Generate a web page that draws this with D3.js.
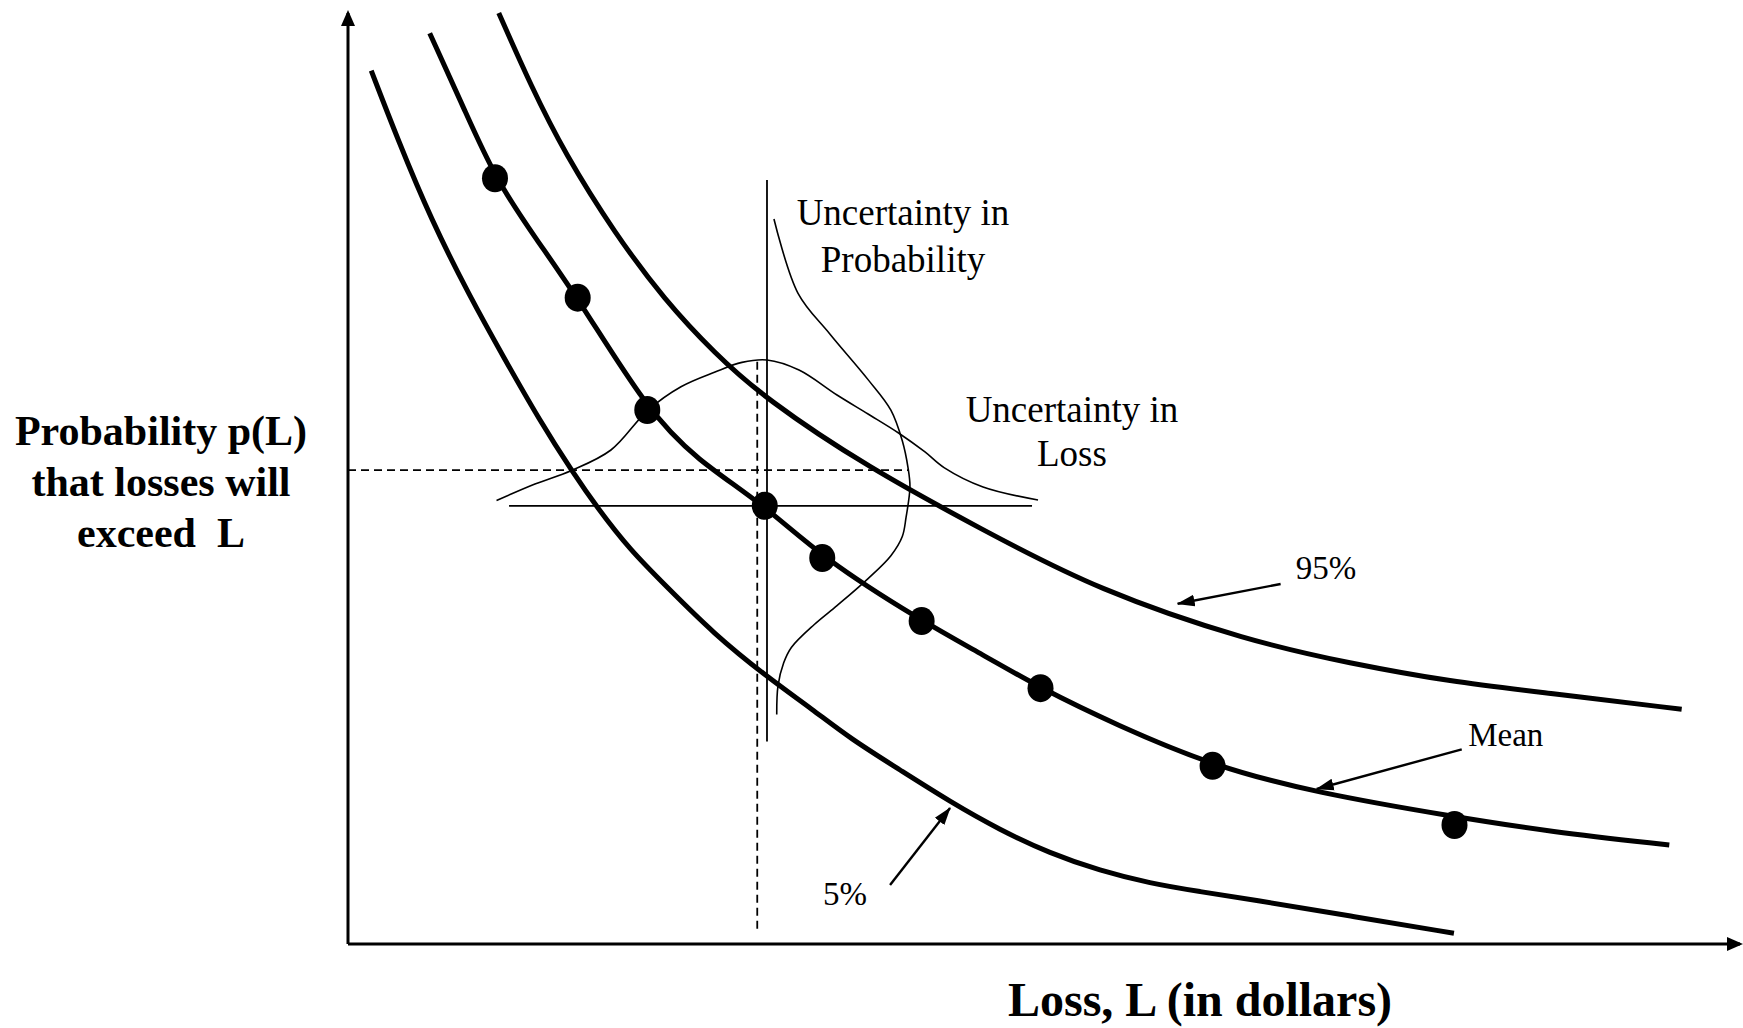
<!DOCTYPE html>
<html>
<head>
<meta charset="utf-8">
<script src="https://cdn.jsdelivr.net/npm/d3@7"></script>
<style>
  html, body { margin: 0; padding: 0; background: #fff; }
  svg { display: block; font-family: "Liberation Serif", "Times New Roman", serif; }
</style>
</head>
<body>
<div id="chart"></div>
<script>
// loss L on x, exceedance probability p(L) on y, both on a 0-100 scale
const meanCurve = [
  [5.87, 97.82], [8.38, 89.58], [10.56, 82.25], [13.56, 75.62], [16.5, 69.42],
  [21.5, 57.36], [25.05, 51.99], [29.83, 47.26], [34.07, 41.46], [41.21, 34.69],
  [45.64, 31.04], [49.75, 27.48], [55.22, 23.52], [62.11, 19.14], [69.59, 16.22],
  [79.45, 13.67], [86.35, 12.06], [94.92, 10.63]
];

const meanPoints = [
  [10.56, 82.25], [16.5, 69.42], [21.5, 57.36], [29.94, 47.07], [34.07, 41.46],
  [41.21, 34.69], [49.75, 27.48], [62.11, 19.14], [79.49, 12.78]
];

const upperCurve = [
  [10.83, 100], [13.17, 92.08], [15.57, 84.93], [19.16, 76.34], [22.75, 69.17],
  [26.34, 63.45], [29.94, 58.61], [37.36, 51.17], [45.62, 44.47], [53.84, 38.02],
  [64.8, 32.49], [71.98, 30.15], [79.17, 28.17], [86.35, 26.93], [95.81, 25.21]
];

const lowerCurve = [
  [1.67, 93.8], [3.59, 86.36], [5.98, 77.77], [8.76, 69.53], [11.16, 63.08],
  [13.79, 56.18], [16.19, 50.56], [17.87, 46.94], [20.26, 42.32], [22.89, 38.38],
  [26.24, 33.37], [30.08, 28.71], [33.43, 25.13], [36.06, 22.09], [39.66, 18.69],
  [43.25, 15.28], [46.84, 12.24], [50.43, 9.74], [54.02, 7.87], [57.61, 6.52],
  [61.21, 5.62], [64.8, 4.8], [71.98, 3.01], [79.45, 1.15]
];

// spread of the loss around the central point (bell lying on its base)
const lossSpread = [
  [10.67, 47.64], [13.43, 49.41], [16.02, 50.84], [18.89, 53.06], [21.52, 57.3],
  [23.92, 59.86], [26.37, 61.44], [28.3, 62.47], [30.1, 62.73], [32.4, 61.65],
  [35.13, 58.97], [37.36, 56.93], [39.55, 54.89], [41.45, 52.85], [42.82, 51.17],
  [45.62, 49.09], [49.57, 47.69]
];

// spread of the probability (bell standing on its side)
const probSpread = [
  [30.6, 77.87], [32.33, 69.89], [34.6, 65.55], [37.36, 60.62], [39.0, 57.34],
  [39.82, 54.05], [40.23, 51.17], [40.37, 49.11], [40.09, 45.82], [39.82, 43.77],
  [39.0, 41.71], [37.36, 39.25], [35.15, 36.37], [33.5, 34.32], [31.85, 31.85],
  [31.3, 30.2], [30.89, 27.73], [30.8, 24.65]
];

// [x1, y1, x2, y2, dashed]
const guideLines = [
  [30.1, 82.06, 30.1, 21.75, false],
  [11.57, 47.05, 49.14, 47.05, false],
  [0, 50.91, 40.23, 50.91, true],
  [29.4, 62.55, 29.4, 1.5, true]
];

// [x1, y1, x2, y2] tail -> tip
const pointers = [
  [67.0, 38.67, 59.6, 36.55],
  [80.01, 20.91, 69.59, 16.65],
  [38.94, 6.34, 43.25, 14.61]
];

const noteLines = [
  ["Uncertainty in", 39.87, 77.18],
  ["Probability", 39.87, 72.21],
  ["Uncertainty in", 52.01, 56.1],
  ["Loss", 52.01, 51.38]
];

const curveNames = [
  ["95%", 70.26, 39.21],
  ["Mean", 83.17, 21.27],
  ["5%", 35.7, 4.19]
];

const yTitle = ["Probability p(L)", "that losses will", "exceed  L"];
const xTitle = "Loss, L (in dollars)";

const width = 1743;
const height = 1028;

const svg = d3.select("#chart")
  .append("svg")
  .attr("width", width)
  .attr("height", height)
  .attr("viewBox", [0, 0, width, height]);

const x = d3.scaleLinear().domain([0, 100]).range([348, 1740]);
const y = d3.scaleLinear().domain([0, 100]).range([944, 13]);

const defs = svg.append("defs");

defs.append("marker")
  .attr("id", "axis-head")
  .attr("markerUnits", "userSpaceOnUse")
  .attr("viewBox", "0 -8 16 16")
  .attr("refX", 13)
  .attr("refY", 0)
  .attr("markerWidth", 16)
  .attr("markerHeight", 16)
  .attr("orient", "auto")
  .append("path")
  .attr("d", "M0,-7L16,0L0,7Z")
  .attr("fill", "#000");

defs.append("marker")
  .attr("id", "note-head")
  .attr("markerUnits", "userSpaceOnUse")
  .attr("viewBox", "0 -7 18 14")
  .attr("refX", 17)
  .attr("refY", 0)
  .attr("markerWidth", 18)
  .attr("markerHeight", 14)
  .attr("orient", "auto")
  .append("path")
  .attr("d", "M0,-6L18,0L0,6Z")
  .attr("fill", "#000");

// axes: plain lines with arrow heads, no ticks
svg.append("line")
  .attr("x1", x(0)).attr("y1", y(0))
  .attr("x2", x(100)).attr("y2", y(0))
  .attr("stroke", "#000")
  .attr("stroke-width", 3)
  .attr("marker-end", "url(#axis-head)");

svg.append("line")
  .attr("x1", x(0)).attr("y1", y(0))
  .attr("x2", x(0)).attr("y2", y(100))
  .attr("stroke", "#000")
  .attr("stroke-width", 3)
  .attr("marker-end", "url(#axis-head)");

svg.append("g")
  .selectAll("line")
  .data(guideLines)
  .join("line")
  .attr("x1", d => x(d[0]))
  .attr("y1", d => y(d[1]))
  .attr("x2", d => x(d[2]))
  .attr("y2", d => y(d[3]))
  .attr("stroke", "#000")
  .attr("stroke-width", 1.8)
  .attr("stroke-dasharray", d => (d[4] ? "8,5" : null));

// thin bells go through their points, thick curves are smoothed
const bell = d3.line()
  .x(d => x(d[0]))
  .y(d => y(d[1]))
  .curve(d3.curveCatmullRom.alpha(0.5));

const smooth = d3.line()
  .x(d => x(d[0]))
  .y(d => y(d[1]))
  .curve(d3.curveBasis);

svg.append("g")
  .attr("fill", "none")
  .attr("stroke", "#000")
  .attr("stroke-width", 1.6)
  .selectAll("path")
  .data([lossSpread, probSpread])
  .join("path")
  .attr("d", bell);

svg.append("g")
  .attr("fill", "none")
  .attr("stroke", "#000")
  .attr("stroke-width", 5)
  .selectAll("path")
  .data([upperCurve, meanCurve, lowerCurve])
  .join("path")
  .attr("d", smooth);

svg.append("g")
  .selectAll("ellipse")
  .data(meanPoints)
  .join("ellipse")
  .attr("cx", d => x(d[0]))
  .attr("cy", d => y(d[1]))
  .attr("rx", 13)
  .attr("ry", 14)
  .attr("fill", "#000");

svg.append("g")
  .selectAll("line")
  .data(pointers)
  .join("line")
  .attr("x1", d => x(d[0]))
  .attr("y1", d => y(d[1]))
  .attr("x2", d => x(d[2]))
  .attr("y2", d => y(d[3]))
  .attr("stroke", "#000")
  .attr("stroke-width", 2.4)
  .attr("marker-end", "url(#note-head)");

svg.append("g")
  .attr("text-anchor", "middle")
  .style("font-size", "37px")
  .selectAll("text")
  .data(noteLines)
  .join("text")
  .attr("x", d => x(d[1]))
  .attr("y", d => y(d[2]))
  .text(d => d[0]);

svg.append("g")
  .attr("text-anchor", "middle")
  .style("font-size", "33px")
  .selectAll("text")
  .data(curveNames)
  .join("text")
  .attr("x", d => x(d[1]))
  .attr("y", d => y(d[2]))
  .text(d => d[0]);

svg.append("text")
  .attr("text-anchor", "middle")
  .style("font-size", "42px")
  .style("font-weight", "bold")
  .style("white-space", "pre")
  .selectAll("tspan")
  .data(yTitle)
  .join("tspan")
  .attr("x", x(0) - 187)
  .attr("y", (d, i) => 445 + i * 51)
  .text(d => d);

svg.append("text")
  .attr("x", 1200)
  .attr("y", 1016)
  .attr("text-anchor", "middle")
  .style("font-size", "48px")
  .style("font-weight", "bold")
  .text(xTitle);
</script>
</body>
</html>
